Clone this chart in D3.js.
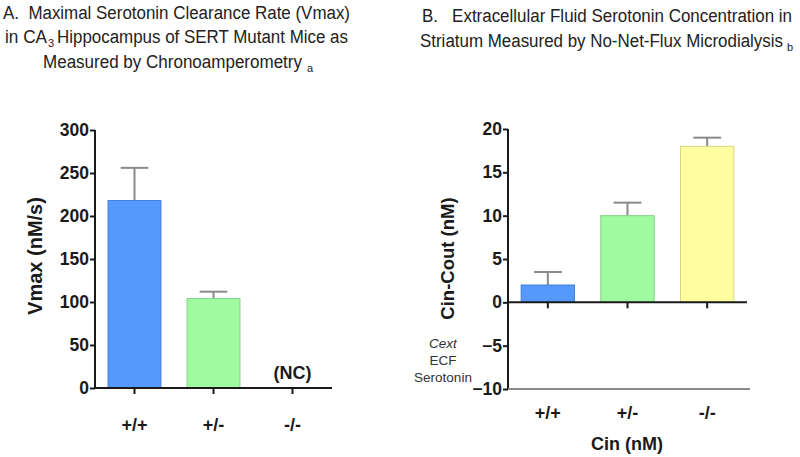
<!DOCTYPE html>
<html><head><meta charset="utf-8">
<script src="https://cdn.jsdelivr.net/npm/d3@7"></script>
<style>body{margin:0;background:#fff}svg{display:block}text{font-family:"Liberation Sans",Arial,sans-serif}</style>
</head><body>
<script>
const categories = ["+/+", "+/-", "-/-"];
const vmaxValues = [218, 104, null];
const vmaxErrors = [256, 112, null];
const vmaxTicks = [0, 50, 100, 150, 200, 250, 300];
const cinValues = [2, 10, 18];
const cinErrors = [3.5, 11.5, 19];
const cinTicks = [-10, -5, 0, 5, 10, 15, 20];
const colors = ["#5599ff", "#a0faa0", "#ffffa0"];

const W = 800, H = 457;
const svg = d3.select("body").append("svg").attr("width", W).attr("height", H);
const dark = "#1a1a1a", gray = "#8a8a8a";

// Titles: each segment placed explicitly
function seg(x, y, len, str, size) {
  const t = svg.append("text").attr("x", x).attr("y", y).attr("font-size", size || 18).attr("fill", "#222")
    .style("white-space", "pre").text(str);
  if (len) t.attr("textLength", len).attr("lengthAdjust", "spacingAndGlyphs");
  return t;
}
seg(3, 18.5, 347, "A.  Maximal Serotonin Clearance Rate (Vmax)");
seg(5, 43, 42, "in CA");
seg(48, 47, 0, "3", 11);
seg(57, 43, 291, "Hippocampus of SERT Mutant Mice as");
seg(43, 68, 259, "Measured by Chronoamperometry");
seg(307, 72, 0, "a", 11);
seg(422, 21.5, 370, "B.   Extracellular Fluid Serotonin Concentration in");
seg(420, 46.5, 363, "Striatum Measured by No-Net-Flux Microdialysis");
seg(787, 50.5, 0, "b", 11);

function panel(opt) {
  const x = d3.scaleBand().domain(categories).range([opt.x0, opt.x1]);
  const y = d3.scaleLinear().domain(opt.domain).range(opt.yr);
  const g = svg.append("g");
  const bw = x.bandwidth() * 0.67;
  const cw = x.bandwidth() * 0.35;
  categories.forEach((c, i) => {
    const v = opt.values[i];
    if (v == null) return;
    const cx = x(c) + x.bandwidth() / 2;
    const e = opt.errors[i];
    g.append("line").attr("x1", cx).attr("x2", cx).attr("y1", y(v)).attr("y2", y(e))
      .attr("stroke", gray).attr("stroke-width", 2);
    g.append("line").attr("x1", cx - cw / 2).attr("x2", cx + cw / 2).attr("y1", y(e)).attr("y2", y(e))
      .attr("stroke", gray).attr("stroke-width", 2);
    g.append("rect").attr("x", cx - bw / 2).attr("width", bw)
      .attr("y", y(Math.max(v, 0))).attr("height", Math.abs(y(v) - y(0)))
      .attr("fill", colors[i]).attr("stroke", d3.color(colors[i]).darker(0.5)).attr("stroke-width", 1);
  });
  const ya = g.append("g").attr("transform", `translate(${opt.x0},0)`)
    .call(d3.axisLeft(y).tickValues(opt.ticks).tickSize(5).tickPadding(1).tickFormat(d3.format("d")));
  ya.select(".domain").attr("stroke", dark).attr("stroke-width", 2).attr("d", `M0,${opt.yr[0]}V${opt.yr[1]}`);
  ya.selectAll(".tick line").attr("stroke", dark).attr("stroke-width", 2);
  ya.selectAll(".tick text").attr("font-size", 17.5).attr("font-weight", "bold").attr("fill", dark)
    .attr("font-family", "Liberation Sans, Arial, sans-serif");
  const xa = g.append("g").attr("transform", `translate(0,${y(0)})`)
    .call(d3.axisBottom(x).tickSize(6).tickFormat(""));
  xa.select(".domain").attr("stroke", dark).attr("stroke-width", 2).attr("d", `M${opt.x0},0H${opt.x1}`);
  xa.selectAll(".tick line").attr("stroke", dark).attr("stroke-width", 2);
  g.selectAll(".cat").data(categories).join("text")
    .attr("x", d => x(d) + x.bandwidth() / 2).attr("y", opt.catY)
    .attr("text-anchor", "middle").attr("font-size", 18).attr("font-weight", "bold").attr("fill", dark)
    .text(d => d);
  g.append("text").attr("transform", `translate(${opt.ytx},${opt.yty}) rotate(-90)`)
    .attr("text-anchor", "middle").attr("dominant-baseline", "central")
    .attr("font-size", opt.ytSize).attr("font-weight", "bold").attr("fill", dark).text(opt.ytitle);
  return {x, y, g};
}

const A = panel({x0: 95, x1: 332, domain: [0, 300], yr: [388, 130], values: vmaxValues, errors: vmaxErrors,
  ticks: vmaxTicks, catY: 431, ytx: 35, yty: 256, ytSize: 20, ytitle: "Vmax (nM/s)"});
A.g.append("text").attr("x", A.x("-/-") + A.x.bandwidth() / 2).attr("y", 379).attr("text-anchor", "middle")
  .attr("font-size", 18).attr("font-weight", "bold").attr("fill", dark).text("(NC)");

const B = panel({x0: 508, x1: 747, domain: [-10, 20], yr: [389, 129], values: cinValues, errors: cinErrors,
  ticks: cinTicks, catY: 419, ytx: 447.5, yty: 258.5, ytSize: 18.5, ytitle: "Cin-Cout (nM)"});
B.g.append("line").attr("x1", 508).attr("x2", 750).attr("y1", B.y(-10)).attr("y2", B.y(-10))
  .attr("stroke", gray).attr("stroke-width", 2);
B.g.append("text").attr("x", 627).attr("y", 450).attr("text-anchor", "middle").attr("font-size", 18)
  .attr("font-weight", "bold").attr("fill", dark).text("Cin (nM)");
const note = ["Cext", "ECF", "Serotonin"];
B.g.selectAll(".note").data(note).join("text").attr("x", 443).attr("y", (d, i) => 348 + i * 17)
  .attr("text-anchor", "middle").attr("font-size", 13.5).attr("fill", "#333")
  .attr("font-style", (d, i) => i === 0 ? "italic" : "normal").text(d => d);
</script>
</body></html>
